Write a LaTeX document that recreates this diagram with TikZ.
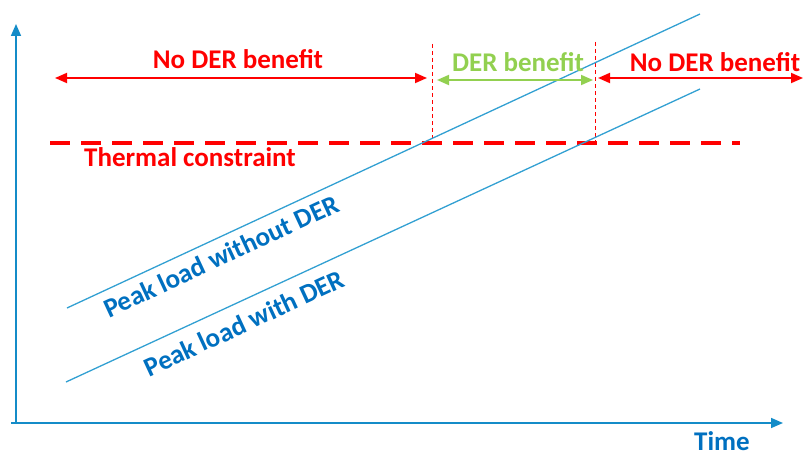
\documentclass[tikz,border=0pt]{standalone}
\usepackage{fontspec}
\setmainfont{Carlito}
\usetikzlibrary{arrows.meta}
\definecolor{derred}{RGB}{255,0,0}
\definecolor{dergreen}{RGB}{146,208,80}
\definecolor{axisblue}{RGB}{20,140,200}
\definecolor{lineblue}{RGB}{50,160,210}
\definecolor{textblue}{RGB}{0,112,192}
\begin{document}
\begin{tikzpicture}[x=1pt,y=-1pt,
  lbl/.style={font=\fontsize{27}{31}\selectfont\bfseries, inner sep=0pt},
  axis/.style={draw=axisblue, line width=1.6pt, -{Triangle[length=12pt,width=10pt]}},
  span/.style={line width=1.8pt, {Triangle[length=12pt,width=10pt]}-{Triangle[length=12pt,width=10pt]}},
  marker/.style={draw=derred, line width=1pt, dash pattern=on 4pt off 3pt},
  load/.style={draw=lineblue, line width=1.3pt}]
\useasboundingbox (0,0) rectangle (803,452);

% axes
\coordinate (origin) at (16,423);
\coordinate (ytop) at (16,24);
\coordinate (xend) at (783,423);
\draw[axis] (origin) -- (ytop);
\draw[axis] (11,423) -- (xend);
\node[lbl, text=textblue] (time) at (722,441) {Time};

% thermal constraint
\coordinate (thA) at (50,143);
\coordinate (thB) at (740,143);
\draw[derred, line width=4pt, dash pattern=on 20pt off 11pt] (thA) -- (thB);
\node[lbl, text=derred] (thermal) at (190,157) {Thermal constraint};

% benefit boundaries
\coordinate (m1t) at (432,44);
\coordinate (m1b) at (432,143);
\coordinate (m2t) at (595,42);
\coordinate (m2b) at (595,143);
\draw[marker] (m1t) -- (m1b);
\draw[marker] (m2t) -- (m2b);

% peak load lines
\coordinate (w0) at (67,308);
\coordinate (w1) at (700,14);
\coordinate (d0) at (66,382);
\coordinate (d1) at (700,89);
\draw[load] (w0) -- (w1);
\draw[load] (d0) -- (d1);
\node[lbl, text=textblue, rotate=24.9] (without) at (221,256) {Peak load without DER};
\node[lbl, text=textblue, rotate=24.9] (with) at (244,323) {Peak load with DER};

% benefit spans
\coordinate (a1) at (55,78);
\coordinate (a2) at (427,78);
\coordinate (g1) at (437,80);
\coordinate (g2) at (593,80);
\coordinate (b1) at (598,78);
\coordinate (b2) at (803,78);
\draw[span, derred] (a1) -- (a2);
\draw[span, dergreen] (g1) -- (g2);
\draw[span, derred] (b1) -- (b2);
\node[lbl, text=derred] (nob1) at (238,59) {No DER benefit};
\node[lbl, text=dergreen] (ben) at (518,62) {DER benefit};
\node[lbl, text=derred] (nob2) at (715,62) {No DER benefit};
\end{tikzpicture}
\end{document}
